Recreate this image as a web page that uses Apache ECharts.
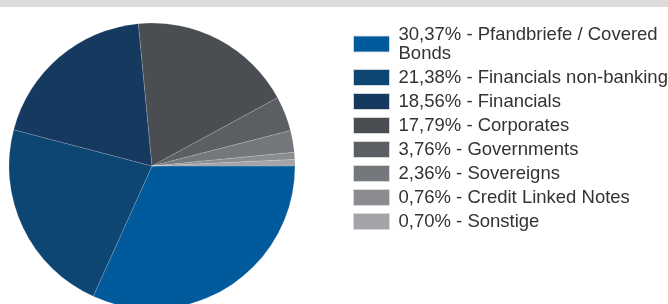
<!DOCTYPE html>
<html>
<head>
<meta charset="utf-8">
<script src="https://cdn.jsdelivr.net/npm/echarts@6/dist/echarts.min.js"></script>
<style>
html,body{margin:0;padding:0;background:#fff;}
#chart{width:668px;height:304px;}
</style>
</head>
<body>
<div id="chart"></div>
<script>
const categories = ['Pfandbriefe / Covered Bonds','Financials non-banking','Financials','Corporates','Governments','Sovereigns','Credit Linked Notes','Sonstige'];
const values = [30.37, 21.38, 18.56, 17.79, 3.76, 2.36, 0.76, 0.70];
const colors = ['#005a9b','#0d4573','#15395f','#4a4d52','#5b5f63','#74777b','#8a8c90','#a3a4a7'];

function fmt(v){ return v.toFixed(2).replace('.', ',') + '%'; }
const labels = categories.map((c,i)=> fmt(values[i]) + ' - ' + c);

const chart = echarts.init(document.getElementById('chart'), null, {renderer:'canvas'});
chart.setOption({
  animation:false,
  graphic:[{type:'rect', shape:{x:0,y:0,width:668,height:7}, style:{fill:'#dcdcdc'}, z:10}],
  legend:{
    orient:'vertical', left:353, top:25, padding:0,
    itemWidth:36, itemHeight:16, itemGap:5,
    icon:'rect',
    itemStyle:{borderColor:'rgba(220,220,220,0.9)', borderWidth:1},
    textStyle:{fontFamily:'Liberation Sans', fontSize:18.5, color:'#333', lineHeight:19, width:285, overflow:'break', padding:[0,0,0,4]},
    formatter:function(name){ const i=categories.indexOf(name); return labels[i]; },
    data:categories,
    selectedMode:false
  },
  series:[{
    type:'pie',
    center:[152,166],
    radius:143,
    startAngle:0,
    clockwise:true,
    label:{show:false},
    labelLine:{show:false},
    silent:true,
    itemStyle:{borderColor:'rgba(255,255,255,0.25)', borderWidth:0.6},
    data:categories.map((c,i)=>({name:c, value:values[i], itemStyle:{color:colors[i]}}))
  }]
});
</script>
</body>
</html>
